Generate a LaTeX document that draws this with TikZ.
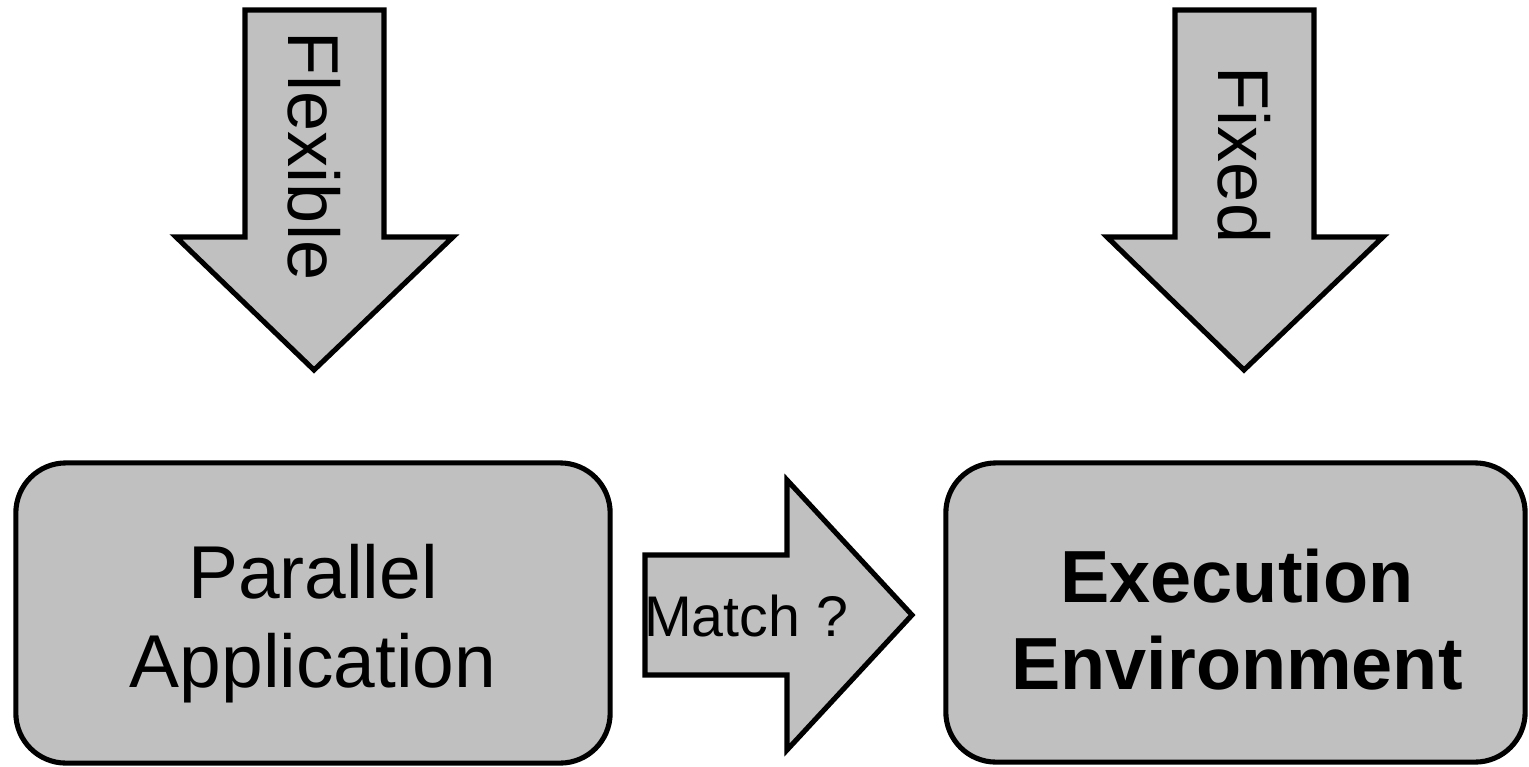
\documentclass[tikz,border=0pt]{standalone}
\usepackage{fontspec}
\setmainfont{Liberation Sans}
\definecolor{boxgray}{RGB}{192,192,192}
\begin{document}
\begin{tikzpicture}[x=0.01cm,y=-0.01cm,
  shapeline/.style={draw=black,fill=boxgray,line width=1.45pt,line join=miter},
  block/.style={shapeline,rounded corners=0.5cm,inner sep=0pt},
  blocktext/.style={align=center,inner sep=0pt},
  vlabel/.style={rotate=-90,inner sep=0pt,font=\fontsize{20.5}{24}\selectfont}]
  \useasboundingbox (0,0) rectangle (1529,766);

  % downward block arrows
  \draw[shapeline] (245,10) -- (384,10) -- (384,237) -- (453,237) -- (314,370)
    -- (176,237) -- (245,237) -- cycle;
  \draw[shapeline] (1175,10) -- (1314,10) -- (1314,237) -- (1383,237) -- (1244,370)
    -- (1107,237) -- (1175,237) -- cycle;
  \node[vlabel] (flex) at (314,156) {Flexible};
  \node[vlabel] (fixed) at (1244,155) {Fixed};

  % the two boxes
  \node[block,minimum width=5.94cm,minimum height=3.0cm] (app) at (313,613) {};
  \node[block,minimum width=5.79cm,minimum height=2.99cm] (env) at (1235.5,612.5) {};
  \node[blocktext,font=\fontsize{21.3}{25.3}\selectfont] (apptext) at (313,624)
    {Parallel\\Application};
  \node[blocktext,font=\fontsize{21}{24.7}\selectfont\bfseries] (envtext) at (1237,620)
    {Execution\\Environment};

  % right block arrow between them
  \draw[shapeline] (645,555) -- (787,555) -- (787,480) -- (912,615) -- (787,750)
    -- (787,675) -- (645,675) -- cycle;
  \node[inner sep=0pt,font=\fontsize{16.3}{19}\selectfont] (match) at (746,616) {Match ?};
\end{tikzpicture}
\end{document}
